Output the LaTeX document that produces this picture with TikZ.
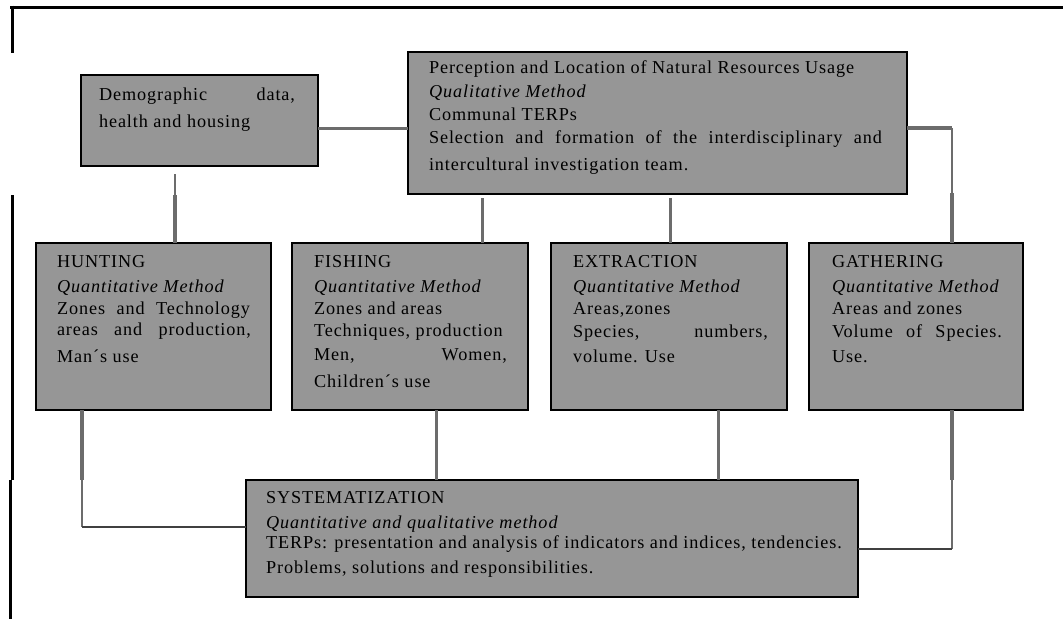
\documentclass[tikz,border=0pt]{standalone}
\usepackage{fontspec}
\setmainfont{Liberation Serif}[LetterSpace=5]

\definecolor{boxgray}{RGB}{150,150,150}
\definecolor{linkgray}{RGB}{108,108,108}
\definecolor{linkdark}{RGB}{64,64,64}

% a line of text spread to a fixed width
\newcommand\jline[2]{\makebox[#1][s]{#2}}

\tikzset{
  panel/.style={draw=black, line width=2pt, fill=boxgray, inner sep=0pt, outer sep=0pt},
  txtline/.style={anchor=base west, inner sep=0pt, outer sep=0pt, font=\fontsize{18.2}{22}\selectfont},
  txtit/.style={txtline, font=\fontsize{18.2}{22}\selectfont\itshape},
  link/.style={draw=linkgray, line width=3pt},
  linkheavy/.style={draw=linkgray, line width=4pt},
  linklight/.style={draw=linkgray, line width=2pt},
  linkdark/.style={draw=linkdark, line width=2.2pt},
  rule/.style={draw=black, line width=3pt}
}

\begin{document}
\begin{tikzpicture}[x=1pt,y=-1pt]
\useasboundingbox (0,0) rectangle (1063,619);

% page rule at the top and on the left
\draw[rule] (10,7) -- (1063,7);
\draw[rule] (12,5.5) -- (12,53);
\draw[rule] (12,195) -- (12,480);
\draw[draw=black, line width=2.2pt] (10.5,480) -- (10.5,619);

% ---------- boxes ----------
\node[panel, minimum width=237pt, minimum height=91pt]  (demo) at (199.5,120.5) {};
\node[panel, minimum width=499pt, minimum height=142pt] (perc) at (657.5,123) {};
\node[panel, minimum width=235pt, minimum height=167pt] (hunt) at (153.5,326.5) {};
\node[panel, minimum width=236pt, minimum height=167pt] (fish) at (410,326.5) {};
\node[panel, minimum width=236pt, minimum height=167pt] (extr) at (669,326.5) {};
\node[panel, minimum width=214pt, minimum height=167pt] (gath) at (916,326.5) {};
\node[panel, minimum width=612pt, minimum height=117pt] (syst) at (552,538.5) {};

% ---------- texts ----------
\node[txtline] (demo-1) at (99,100) {\jline{196pt}{Demographic data,}};
\node[txtline] (demo-2) at (99,127) {health and housing};

\node[txtline] (perc-1) at (429,73)  {Perception and Location of Natural Resources Usage};
\node[txtit]   (perc-2) at (429,97)  {Qualitative Method};
\node[txtline] (perc-3) at (429,120) {Communal TERPs};
\node[txtline] (perc-4) at (429,143) {\jline{453pt}{Selection and formation of the interdisciplinary and}};
\node[txtline] (perc-5) at (429,170) {intercultural investigation team.};

\node[txtline] (hunt-1) at (57,267) {HUNTING};
\node[txtit]   (hunt-2) at (57,292) {Quantitative Method};
\node[txtline] (hunt-3) at (57,314) {\jline{193pt}{Zones and Technology}};
\node[txtline] (hunt-4) at (57,335) {\jline{194pt}{areas and production,}};
\node[txtline] (hunt-5) at (57,362) {Man´s use};

\node[txtline] (fish-1) at (314,267) {FISHING};
\node[txtit]   (fish-2) at (314,292) {Quantitative Method};
\node[txtline] (fish-3) at (314,314) {Zones and areas};
\node[txtline] (fish-4) at (314,336) {Techniques, production};
\node[txtline] (fish-5) at (314,360) {\jline{193pt}{Men, Women,}};
\node[txtline] (fish-6) at (314,387) {Children´s use};

\node[txtline] (extr-1) at (573,267) {EXTRACTION};
\node[txtit]   (extr-2) at (573,292) {Quantitative Method};
\node[txtline] (extr-3) at (573,314) {Areas,zones};
\node[txtline] (extr-4) at (573,337) {\jline{195pt}{Species, numbers,}};
\node[txtline] (extr-5) at (573,362) {volume. Use};

\node[txtline] (gath-1) at (832,267) {GATHERING};
\node[txtit]   (gath-2) at (832,292) {Quantitative Method};
\node[txtline] (gath-3) at (832,314) {Areas and zones};
\node[txtline] (gath-4) at (832,337) {\jline{170pt}{Volume of Species.}};
\node[txtline] (gath-5) at (832,362) {Use.};

\node[txtline] (syst-1) at (266,503) {SYSTEMATIZATION};
\node[txtit]   (syst-2) at (266,528) {Quantitative and qualitative method};
\node[txtline] (syst-3) at (266,548) {TERPs: presentation and analysis of indicators and indices, tendencies.};
\node[txtline] (syst-4) at (266,573) {Problems, solutions and responsibilities.};

% ---------- routing points ----------
\coordinate (rowTop)   at (0,128);
\coordinate (dTop)     at (175,174);
\coordinate (dMid)     at (175,195);
\coordinate (fTop)     at (482,198);
\coordinate (eTop)     at (670,198);
\coordinate (gBend)    at (952,128);
\coordinate (gMid)     at (952,193);
\coordinate (hMid)     at (82,480);
\coordinate (hBend)    at (82,527);
\coordinate (fLow)     at (436,0);
\coordinate (eLow)     at (718,0);
\coordinate (gLowMid)  at (952,480);
\coordinate (gBendLow) at (952,549);

% ---------- connectors ----------
\draw[link] (demo.east |- rowTop) -- (perc.west |- rowTop);

\draw[linklight] (dTop) -- (dMid);
\draw[linkheavy] (dMid) -- (hunt.north -| dMid);

\draw[link] (fTop) -- (fish.north -| fTop);
\draw[link] (eTop) -- (extr.north -| eTop);

\draw[linkheavy] (perc.east |- gBend) -- (gBend);
\draw[linklight] (gBend) -- (gMid);
\draw[linkheavy] (gMid) -- (gath.north -| gMid);

\draw[linkheavy] (hunt.south -| hMid) -- (hMid);
\draw[linklight] (hMid) -- (hBend);
\draw[linkdark] (hBend) -- (syst.west |- hBend);

\draw[link] (fish.south -| fLow) -- (syst.north -| fLow);
\draw[link] (extr.south -| eLow) -- (syst.north -| eLow);

\draw[linkheavy] (gath.south -| gLowMid) -- (gLowMid);
\draw[linklight] (gLowMid) -- (gBendLow);
\draw[linkdark] (gBendLow) -- (syst.east |- gBendLow);
\end{tikzpicture}
\end{document}
